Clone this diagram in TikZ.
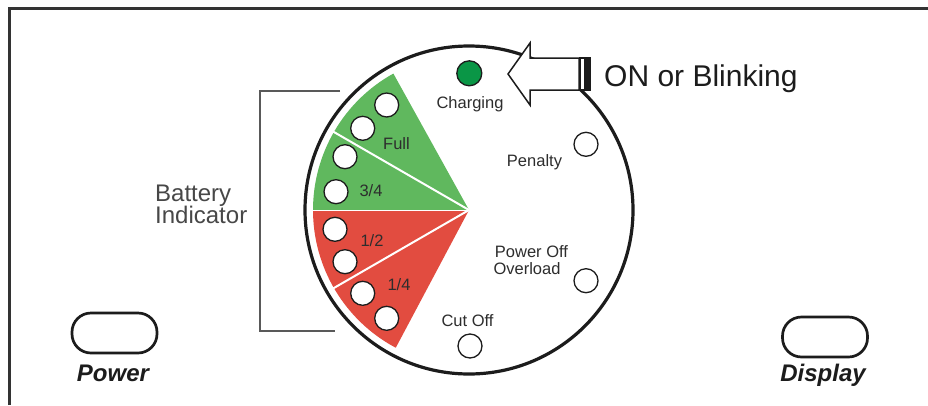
\documentclass[tikz,border=0pt]{standalone}
\usepackage{fontspec}
\setmainfont{Liberation Sans}
\definecolor{wgreen}{RGB}{96,184,94}
\definecolor{wred}{RGB}{226,76,64}
\definecolor{ledgreen}{RGB}{10,150,70}
\definecolor{ink}{RGB}{28,28,28}
\definecolor{txt}{RGB}{45,45,45}
\begin{document}
\begin{tikzpicture}[x=1pt,y=-1pt,
  led/.style={circle, draw=ink, line width=1.3pt, fill=white, minimum size=24pt, inner sep=0pt},
  lbl/.style={text=txt, font=\fontsize{16.5}{18}\selectfont, inner sep=0pt, anchor=base},
  btn/.style={draw=ink, line width=2.7pt, rounded corners=19pt, minimum width=85pt, minimum height=40pt, inner sep=0pt},
  btnlbl/.style={text=ink, font=\fontsize{24}{26}\selectfont\bfseries\itshape, inner sep=0pt, anchor=base},
  divider/.style={white, line width=2pt}]
\useasboundingbox (0,0) rectangle (928,405);
\fill[white] (0,0) rectangle (928,405);
% frame
\draw[ink!90, line width=3pt, line join=miter] (9,405) -- (9,8) -- (928,8);
% wedges
\coordinate (C) at (469,210);
\fill[wgreen] (C) -- ([shift={(180:156)}]C) arc[start angle=180, end angle=241, radius=156] -- cycle;
\fill[wred] (C) -- ([shift={(180:156)}]C) arc[start angle=180, end angle=118, radius=156] -- cycle;
\draw[divider] (C) -- ([shift={(210:157)}]C);
\draw[divider] (C) -- ([shift={(150:157)}]C);
\draw[white, line width=1pt] (C) -- ([shift={(180:157)}]C);
% dial
\node[circle, draw=ink, line width=3.2pt, minimum size=328pt, inner sep=0pt] (dial) at (C) {};
% battery LEDs
\node[led] (f1) at (386.7,105) {};
\node[led] (f2) at (362.7,128.3) {};
\node[led] (t1) at (345,156.7) {};
\node[led] (t2) at (336,191.7) {};
\node[led] (h1) at (335,229.3) {};
\node[led] (h2) at (345,261.7) {};
\node[led] (q1) at (362.7,293.3) {};
\node[led] (q2) at (386.7,318.3) {};
% status LEDs
\node[led, fill=ledgreen, minimum size=25pt] (chg) at (469.3,73.3) {};
\node[led] (pen) at (586,144.3) {};
\node[led] (pwo) at (586,280.7) {};
\node[led] (cut) at (470,346) {};
% labels
\node[lbl] (lchg) at (470,108.3) {Charging};
\node[lbl] (lfull) at (396.5,149) {Full};
\node[lbl] (l34) at (371,196.7) {3/4};
\node[lbl] (l12) at (372,246.7) {1/2};
\node[lbl] (l14) at (399,290) {1/4};
\node[lbl] (lpen) at (534.5,166.5) {Penalty};
\node[lbl] (lpo) at (531.5,257) {Power Off};
\node[lbl] (lov) at (527,274.5) {Overload};
\node[lbl] (lcut) at (467.5,326.5) {Cut Off};
% arrow
\draw[ink, line width=1.5pt, fill=white, line join=miter]
  (508,74) -- (530,43) -- (530,58) -- (579,58) -- (579,90) -- (530,90) -- (530,105) -- cycle;
\fill[ink] (578.5,57) rectangle (591,91);
\fill[white] (581.3,59) rectangle (583.8,89);
\node[anchor=base west, inner sep=0pt, text=ink, font=\fontsize{30}{32}\selectfont] (onb) at (604,86.7) {ON or Blinking};
% battery indicator bracket
\draw[black!65, line width=1.2pt] (340,91) -- (260,91) -- (260,331) -- (335,331);
\node[anchor=base west, inner sep=0pt, text=black!72, font=\fontsize{24}{26}\selectfont] (bat1) at (155,201.7) {Battery};
\node[anchor=base west, inner sep=0pt, text=black!72, font=\fontsize{24}{26}\selectfont] (bat2) at (155,223.3) {Indicator};
% buttons
\node[btn] (pwr) at (114.5,333) {};
\node[btnlbl] (lpwr) at (113,381.7) {Power};
\node[btn] (dsp) at (825,337) {};
\node[btnlbl] (ldsp) at (823,381.7) {Display};
\end{tikzpicture}
\end{document}
